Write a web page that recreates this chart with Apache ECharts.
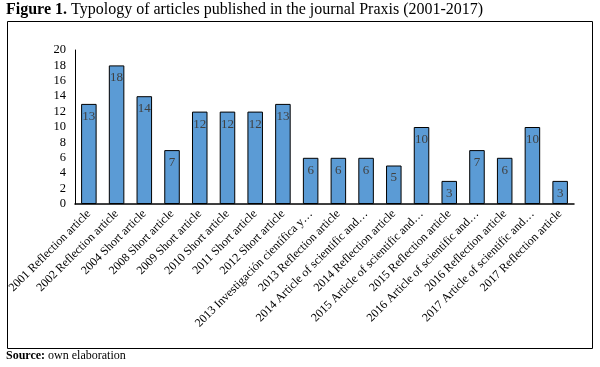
<!DOCTYPE html>
<html><head><meta charset="utf-8">
<script src="https://cdn.jsdelivr.net/npm/echarts@6/dist/echarts.min.js"></script>
<style>html,body{margin:0;padding:0;background:#fff}#c{width:600px;height:367px}</style>
</head><body><div id="c"></div>
<script>
const categories = [
  "2001 Reflection article","2002 Reflection article","2004 Short article","2008 Short article",
  "2009 Short article","2010 Short article","2011 Short article","2012 Short article",
  "2013 Investigación científica y…","2013 Reflection article","2014 Article of scientific and…",
  "2014 Reflection article","2015 Article of scientific and…","2015 Reflection article",
  "2016 Article of scientific and…","2016 Reflection article","2017 Article of scientific and…",
  "2017 Reflection article"
];
const values = [13,18,14,7,12,12,12,13,6,6,6,5,10,3,7,6,10,3];
const yMin = 0, yMax = 20, yInterval = 2;

const chart = echarts.init(document.getElementById('c'));
const serif = '"Liberation Serif", "Times New Roman", serif';
chart.setOption({
  animation:false,
  graphic:[
    {type:'rect', shape:{x:7.5,y:21.5,width:585,height:327}, style:{fill:'none',stroke:'#000',lineWidth:1}},
    {type:'text', left:6, top:2, style:{text:'{b|Figure 1.} Typology of articles published in the journal Praxis (2001-2017)', rich:{b:{fontWeight:'bold',fontFamily:serif,fontSize:16}}, fontFamily:serif, fontSize:16, fill:'#000'}},
    {type:'text', left:6, top:350, style:{text:'{b|Source:} own elaboration', rich:{b:{fontWeight:'bold',fontFamily:serif,fontSize:12}}, fontFamily:serif, fontSize:12, fill:'#000'}}
  ],
  grid:{left:75, top:50, right:26, bottom:163},
  xAxis:{type:'category', data:categories,
    axisLine:{lineStyle:{color:'#000',width:1.5}}, axisTick:{show:false},
    axisLabel:{rotate:45, interval:0, fontFamily:serif, fontSize:12, color:'#000', margin:8}},
  yAxis:{type:'value', min:yMin, max:yMax, interval:yInterval,
    axisLine:{show:true, lineStyle:{color:'#000',width:1}}, axisTick:{show:false}, splitLine:{show:false},
    axisLabel:{fontFamily:serif, fontSize:12.5, color:'#000', margin:9}},
  series:[{type:'bar', data:values, barCategoryGap:'44%',
    itemStyle:{color:'#5B9BD5', borderColor:'#000', borderWidth:1},
    label:{show:true, position:'insideTop', distance:6, fontFamily:serif, fontSize:13, color:'#404040'}}]
});
</script>
</body></html>
